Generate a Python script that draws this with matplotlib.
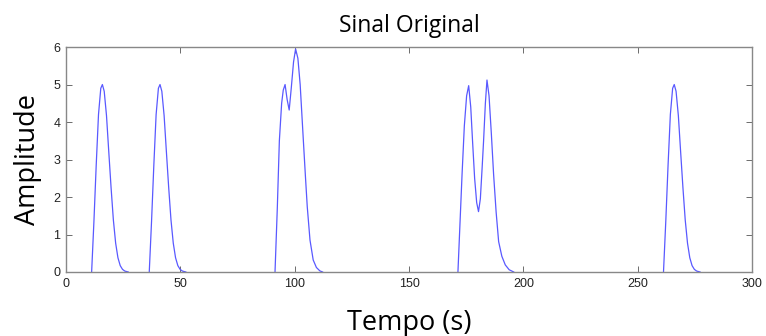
import matplotlib
matplotlib.use("Agg")
import matplotlib.pyplot as plt

# Signal samples (time in s, amplitude); the signal is zero between pulses
pulse1_t = [11.2, 12.2, 13.2, 14.2, 15.2, 15.9, 16.7, 17.7, 18.7, 19.7, 20.7, 21.7, 22.7, 23.7, 24.7, 25.7, 27.2]
pulse1_y = [0.0, 1.35, 2.85, 4.2, 4.9, 5.0, 4.82, 4.17, 3.2, 2.25, 1.39, 0.77, 0.38, 0.17, 0.07, 0.025, 0.0]

pulse2_t = [36.4, 37.4, 38.4, 39.4, 40.4, 41.1, 41.9, 42.9, 43.9, 44.9, 45.9, 46.9, 47.9, 48.9, 49.9, 50.9, 52.4]
pulse2_y = [0.0, 1.35, 2.85, 4.2, 4.9, 5.0, 4.82, 4.17, 3.2, 2.25, 1.39, 0.77, 0.38, 0.17, 0.07, 0.025, 0.0]

pulse3_t = [91.4, 92.4, 93.3, 94.3, 95.0, 95.8, 96.7, 97.6, 98.5, 99.5, 100.4, 101.4, 102.4,
            103.8, 104.7, 105.5, 106.7, 108.1, 109.5, 111.0, 112.2]
pulse3_y = [0.0, 1.7, 3.5, 4.5, 4.85, 5.0, 4.6, 4.32, 4.9, 5.6, 5.95, 5.7, 5.0,
            3.5, 2.55, 1.74, 0.85, 0.32, 0.12, 0.03, 0.0]

pulse4_t = [171.4, 172.3, 173.2, 174.2, 175.2, 176.1, 177.0, 177.8, 178.7, 179.6, 180.4, 181.2,
            182.0, 182.6, 183.4, 184.1, 185.0, 186.0, 187.0, 188.1, 189.2, 190.6, 192.1, 193.8, 195.8]
pulse4_y = [0.0, 1.3, 2.6, 3.9, 4.7, 4.97, 4.4, 3.48, 2.5, 1.85, 1.61, 1.95,
            2.8, 3.48, 4.5, 5.12, 4.7, 3.7, 2.6, 1.6, 0.81, 0.42, 0.19, 0.06, 0.0]

pulse5_t = [261.3, 262.3, 263.3, 264.3, 265.3, 266.0, 266.8, 267.8, 268.8, 269.8, 270.8, 271.8, 272.8, 273.8, 274.8, 275.8, 277.3]
pulse5_y = [0.0, 1.35, 2.85, 4.2, 4.9, 5.0, 4.82, 4.17, 3.2, 2.25, 1.39, 0.77, 0.38, 0.17, 0.07, 0.025, 0.0]

x_ticks = [0, 50, 100, 150, 200, 250, 300]
y_ticks = [0, 1, 2, 3, 4, 5, 6]

pulses = [(pulse1_t, pulse1_y), (pulse2_t, pulse2_y), (pulse3_t, pulse3_y),
          (pulse4_t, pulse4_y), (pulse5_t, pulse5_y)]

fig = plt.figure(figsize=(7.66, 3.36), dpi=100)
ax = fig.add_axes([0.0862, 0.1905, 0.8955, 0.6695])
for pt, py in pulses:
    ax.plot(pt, py, color=(0.35, 0.35, 1.0), lw=0.9, zorder=2)

ax.set_xlim(0, 300)
ax.set_ylim(0, 6)
ax.set_xticks(x_ticks)
ax.set_yticks(y_ticks)
ax.tick_params(direction="in", top=True, right=True, length=4, width=0.6,
               colors="#555555", labelcolor="#222222", labelsize=9, pad=4)
for lab in ax.get_xticklabels() + ax.get_yticklabels():
    lab.set_fontfamily("Liberation Sans")
for s in ax.spines.values():
    s.set_color("#888888")
    s.set_linewidth(1.0)
    s.set_zorder(3)

ax.set_title("Sinal Original", fontfamily="Open Sans", fontsize=16.5, pad=11)
ax.set_xlabel("Tempo (s)", fontfamily="Open Sans", fontsize=19.5, labelpad=14)
ax.set_ylabel("Amplitude", fontfamily="Open Sans", fontsize=19.5, labelpad=8)

fig.savefig("out.png", dpi=100)
